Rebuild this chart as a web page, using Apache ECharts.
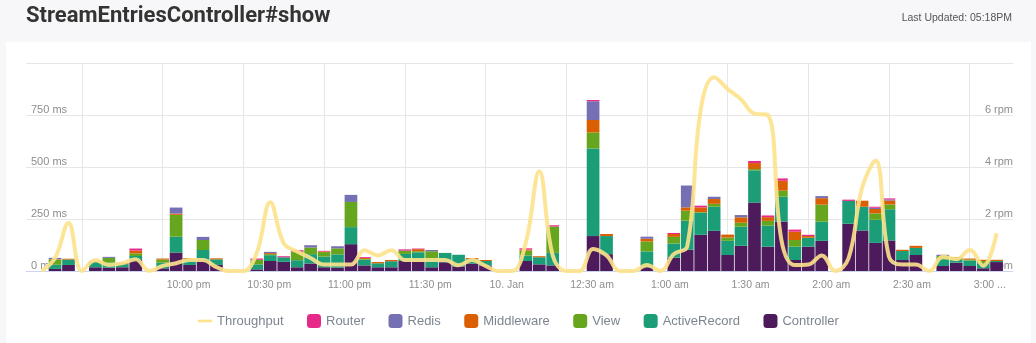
<!DOCTYPE html>
<html>
<head>
<meta charset="utf-8">
<script src="https://cdn.jsdelivr.net/npm/echarts@6.0.0/dist/echarts.min.js"></script>
<style>
  html, body { margin: 0; padding: 0; background: #f7f7f9; }
  #chart { width: 1036px; height: 343px; }
</style>
</head>
<body>
<div id="chart"></div>
<script>
// 5-minute buckets, evening of 9 Jan into the early hours of 10 Jan
const slotTimes = [
  '21:15','21:20','21:25','21:30','21:35','21:40','21:45','21:50','21:55',
  '22:00','22:05','22:10','22:15','22:20','22:25','22:30','22:35','22:40','22:45','22:50','22:55',
  '23:00','23:05','23:10','23:15','23:20','23:25','23:30','23:35','23:40','23:45','23:50','23:55',
  '00:00','00:05','00:10','00:15','00:20','00:25','00:30','00:35','00:40','00:45','00:50','00:55',
  '01:00','01:05','01:10','01:15','01:20','01:25','01:30','01:35','01:40','01:45','01:50','01:55',
  '02:00','02:05','02:10','02:15','02:20','02:25','02:30','02:35','02:40','02:45','02:50','02:55',
  '03:00','03:05','03:10'
];

// Mean response time per layer (ms)
const controller = [
  0, 10, 29, 0, 18, 16, 18, 53, 0,
  13, 89, 29, 53, 29, 0, 0, 8, 48, 44, 18, 36,
  18, 16, 129, 27, 18, 18, 48, 45, 18, 42, 22, 36,
  27, 0, 0, 48, 32, 27, 0, 0, 168, 81, 0, 0,
  18, 0, 64, 102, 174, 193, 77, 121, 329, 117, 238, 53,
  117, 145, 0, 227, 195, 135, 147, 53, 77, 0, 24, 40,
  24, 13, 43
];
const activeRecord = [
  0, 20, 26, 0, 24, 24, 15, 19, 0,
  27, 76, 27, 48, 27, 0, 0, 24, 28, 22, 34, 45,
  51, 64, 82, 28, 19, 29, 34, 45, 42, 45, 56, 21,
  21, 0, 0, 27, 34, 60, 0, 0, 421, 87, 0, 0,
  76, 0, 68, 140, 106, 116, 68, 92, 155, 101, 119, 64,
  43, 92, 0, 110, 114, 111, 150, 43, 34, 0, 32, 13,
  26, 24, 5
];
const view = [
  0, 25, 0, 0, 0, 23, 0, 13, 0,
  15, 105, 0, 48, 0, 0, 0, 22, 5, 0, 42, 32,
  22, 29, 121, 3, 0, 0, 16, 5, 35, 0, 0, 0,
  0, 0, 0, 23, 0, 127, 0, 0, 77, 0, 0, 0,
  48, 0, 32, 48, 3, 14, 16, 19, 6, 23, 29, 32,
  0, 82, 0, 0, 0, 31, 23, 0, 0, 0, 16, 8,
  5, 11, 0
];
const middleware = [
  0, 2, 4, 0, 5, 0, 5, 13, 0,
  5, 6, 6, 0, 5, 0, 0, 0, 5, 0, 0, 0,
  3, 0, 0, 5, 6, 6, 0, 10, 0, 0, 0, 5,
  5, 0, 0, 5, 5, 0, 0, 0, 60, 10, 0, 0,
  13, 0, 14, 16, 23, 23, 14, 26, 29, 18, 48, 40,
  8, 31, 0, 0, 29, 21, 19, 6, 10, 0, 0, 6,
  5, 6, 6
];
const redis = [
  0, 6, 0, 0, 0, 5, 2, 0, 0,
  0, 29, 0, 15, 0, 0, 0, 0, 6, 0, 0, 11,
  0, 10, 34, 0, 0, 0, 0, 0, 6, 0, 0, 0,
  0, 0, 0, 0, 0, 0, 0, 0, 90, 0, 0, 0,
  10, 0, 0, 105, 0, 11, 0, 11, 0, 0, 0, 0,
  0, 10, 0, 0, 0, 6, 5, 0, 0, 0, 6, 0,
  0, 0, 0
];
const router = [
  0, 0, 0, 0, 0, 0, 0, 10, 0,
  0, 0, 0, 0, 0, 0, 0, 6, 0, 5, 6, 0,
  3, 0, 0, 4, 0, 0, 6, 3, 0, 0, 0, 0,
  0, 0, 0, 6, 0, 6, 0, 0, 6, 0, 0, 0,
  0, 0, 5, 0, 8, 0, 0, 0, 10, 8, 11, 10,
  6, 0, 0, 6, 0, 5, 5, 0, 0, 0, 0, 0,
  0, 0, 0
];

// Requests per minute
const throughput = [
  0, 0.5, 1.85, 0, 0.42, 0.23, 0.3, 0.45, 0,
  0.2, 0.3, 0.42, 0.42, 0.15, 0, 0, 0.7, 2.64, 1.07, 0.75, 0.5,
  0.25, 0.25, 0.25, 0.8, 0.6, 0.8, 0.42, 0.42, 0.42, 0.42, 0.22, 0.42,
  0.2, 0, 0, 1.1, 3.84, 0.6, 0, 0, 0.85, 0.6, 0, 0,
  0.23, 0, 0.65, 0.95, 6.2, 7.45, 7.0, 6.6, 6.05, 6.0, 1.2, 0.23,
  0.25, 0.6, 0, 0.5, 3.2, 4.25, 0.55, 0.25, 0.25, 0, 0.55, 0.45,
  0.81, 0.2, 1.46
];

// Half-hour axis labels
const tickTimes  = ['22:00', '22:30', '23:00', '23:30', '00:00', '00:30', '01:00', '01:30', '02:00', '02:30', '03:00'];
const tickLabels = ['10:00 pm', '10:30 pm', '11:00 pm', '11:30 pm', '10. Jan', '12:30 am', '1:00 am', '1:30 am', '2:00 am', '2:30 am', '3:00 ...'];

// minutes since 21:00
function toMinutes(t) {
  const [h, m] = t.split(':').map(Number);
  return ((h - 21 + 24) % 24) * 60 + m;
}
const labelByMinute = {};
tickTimes.forEach((t, i) => { labelByMinute[toMinutes(t)] = tickLabels[i]; });

// rows are [value, minute]; the value comes first so the stack sums it
const rows = values => slotTimes.map((t, i) => [values[i], toMinutes(t)]);

const COLORS = {
  Controller: '#4d1b5c',
  ActiveRecord: '#1b9e77',
  View: '#66a61e',
  Middleware: '#d95f02',
  Redis: '#7570b3',
  Router: '#e7298a',
  Throughput: '#fde28c'
};

const layers = [
  ['Controller', controller],
  ['ActiveRecord', activeRecord],
  ['View', view],
  ['Middleware', middleware],
  ['Redis', redis],
  ['Router', router]
];

const barSeries = layers.map(([name, values]) => ({
  name,
  type: 'bar',
  stack: 'layers',
  xAxisIndex: 0,
  yAxisIndex: 0,
  barWidth: 12.7,
  encode: { x: 1, y: 0 },
  itemStyle: { color: COLORS[name] },
  emphasis: { disabled: true },
  data: rows(values)
}));

const labelColor = '#8e8e8e';
const font = '"Liberation Sans", Arial, sans-serif';

const chart = echarts.init(document.getElementById('chart'), null, { renderer: 'canvas' });
chart.setOption({
  animation: false,
  backgroundColor: '#f7f7f9',
  textStyle: { fontFamily: font },
  graphic: [{
    type: 'rect',
    silent: true,
    z: -100,
    shape: { x: 6, y: 42, width: 1025, height: 301 },
    style: { fill: '#ffffff' }
  }],
  title: [{
    text: 'StreamEntriesController#show',
    left: 26, top: 5, padding: 0,
    textStyle: { fontFamily: 'Roboto, sans-serif', fontWeight: 'bold', fontSize: 22, color: '#333333' }
  }, {
    text: 'Last Updated: 05:18PM',
    right: 24, top: 13, padding: 0,
    textStyle: { fontFamily: font, fontWeight: 'normal', fontSize: 10.5, color: '#555555' }
  }],
  legend: {
    left: 198, top: 314, padding: 0,
    itemWidth: 14, itemHeight: 14, itemGap: 23.5,
    textStyle: { color: '#7d8590', fontSize: 13, fontFamily: font },
    data: [
      { name: 'Throughput', icon: 'path://M0,0H16V3H0Z' },
      { name: 'Router', icon: 'roundRect' },
      { name: 'Redis', icon: 'roundRect' },
      { name: 'Middleware', icon: 'roundRect' },
      { name: 'View', icon: 'roundRect' },
      { name: 'ActiveRecord', icon: 'roundRect' },
      { name: 'Controller', icon: 'roundRect' }
    ]
  },
  grid: { left: 26, right: 23, top: 63, bottom: 72, outerBoundsMode: 'none' },
  xAxis: {
    type: 'value',
    min: 9.2, max: 376.1,
    minInterval: 30, maxInterval: 30,
    axisLine: { show: true, lineStyle: { color: '#ccd6eb', width: 1 } },
    axisTick: { show: false },
    splitLine: { show: true, showMinLine: false, showMaxLine: false, lineStyle: { color: '#e6e6e6', width: 1 } },
    axisLabel: {
      showMinLabel: false, showMaxLabel: false,
      align: 'left', margin: 9, padding: [0, 0, 0, 4],
      color: labelColor, fontSize: 10.5, fontFamily: font,
      formatter: v => labelByMinute[Math.round(v)] || ''
    }
  },
  yAxis: [{
    type: 'value', min: 0, max: 1000, interval: 250, position: 'left',
    axisLine: { show: false }, axisTick: { show: false },
    splitLine: { show: true, lineStyle: { color: '#e6e6e6', width: 1 } },
    axisLabel: {
      inside: true, showMaxLabel: false, align: 'left', verticalAlign: 'bottom',
      margin: 5, color: labelColor, fontSize: 11, fontFamily: font,
      formatter: '{value} ms'
    }
  }, {
    type: 'value', min: 0, max: 8, interval: 2, position: 'right',
    axisLine: { show: false }, axisTick: { show: false },
    splitLine: { show: false },
    axisLabel: {
      inside: true, showMaxLabel: false, align: 'right', verticalAlign: 'bottom',
      margin: 0, color: labelColor, fontSize: 11, fontFamily: font,
      formatter: '{value} rpm'
    }
  }],
  series: barSeries.concat([{
    name: 'Throughput',
    type: 'line',
    xAxisIndex: 0,
    yAxisIndex: 1,
    encode: { x: 1, y: 0 },
    smooth: 0.4,
    showSymbol: false,
    symbol: 'none',
    itemStyle: { color: COLORS.Throughput },
    lineStyle: { color: COLORS.Throughput, width: 4, opacity: 0.9 },
    emphasis: { disabled: true },
    data: rows(throughput)
  }])
});
</script>
</body>
</html>
